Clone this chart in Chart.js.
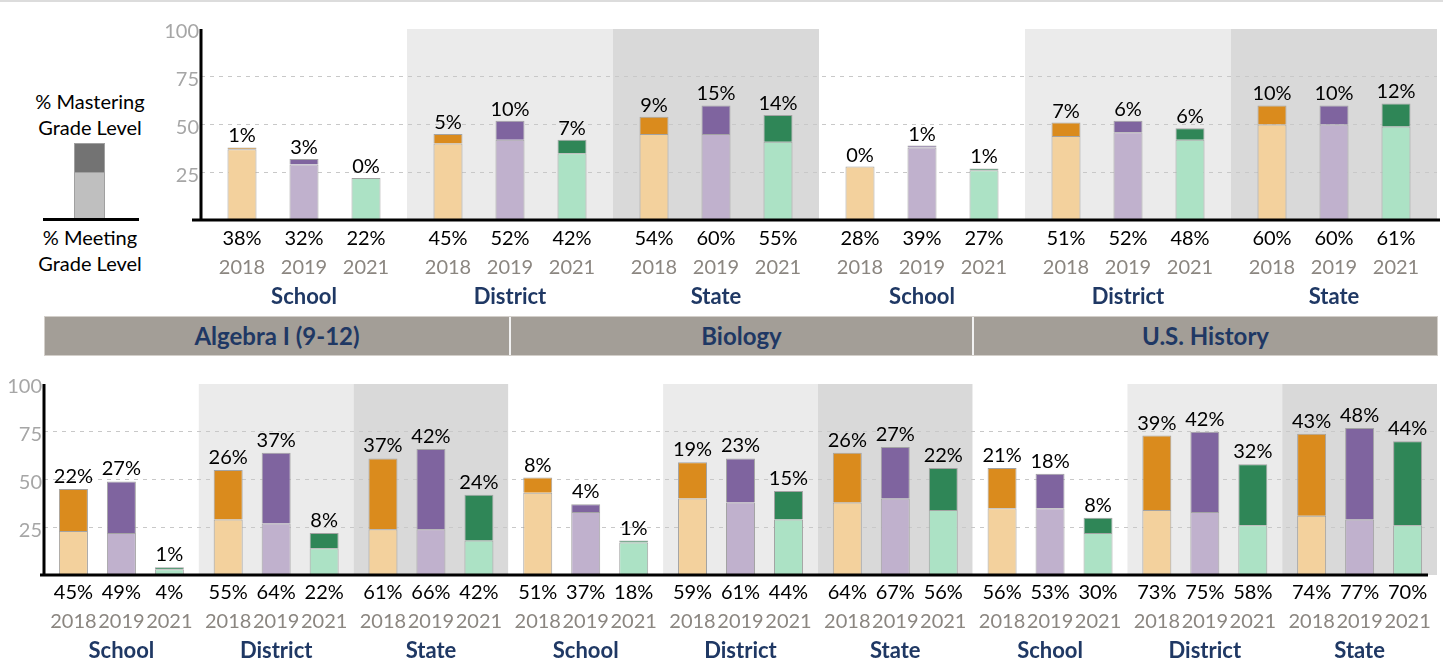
<!DOCTYPE html>
<html>
<head>
<meta charset="utf-8">
<script src="https://cdn.jsdelivr.net/npm/chart.js@4.4.1/dist/chart.umd.min.js"></script>
<style>
html,body{margin:0;padding:0;background:#fff;}
body{width:1443px;height:662px;position:relative;overflow:hidden;font-family:Lato,'Open Sans',sans-serif;}
#topline{position:absolute;left:0;top:0;width:1443px;height:2px;background:#dcdcdc;}
canvas{position:absolute;left:0;}
#c1{top:0;}
#c2{top:360px;}
.legtxt{position:absolute;left:0;width:180px;text-align:center;font-size:20px;line-height:26px;color:#000;}
#legMast{top:88px;}
#legMeet{top:224px;}
#legDark{position:absolute;left:74px;top:143px;width:29px;height:28px;background:#737373;border:1px solid #a0a0a0;border-bottom:none;}
#legLight{position:absolute;left:74px;top:172px;width:29px;height:47px;background:#bfbfbf;border:1px solid #a0a0a0;border-bottom:none;}
#legBase{position:absolute;left:43px;top:218px;width:96px;height:3px;background:#000;}
#header{position:absolute;left:45px;top:317px;width:1392px;height:38px;display:flex;background:#a39e97;box-shadow:0 0 0 1px #d3cfca;}
.hcell{text-align:center;font-weight:bold;font-size:24px;color:#1f3864;line-height:38px;box-sizing:border-box;}
.hcell+.hcell{border-left:2px solid #f2f2f2;}
</style>
</head>
<body>
<div id="topline"></div>
<div class="legtxt" id="legMast">% Mastering<br>Grade Level</div>
<div id="legDark"></div>
<div id="legLight"></div>
<div id="legBase"></div>
<div class="legtxt" id="legMeet">% Meeting<br>Grade Level</div>
<div id="header"></div>
<canvas id="c1" width="1443" height="310"></canvas>
<canvas id="c2" width="1443" height="302"></canvas>
<script>
// ---------- DATA ----------
const years = ['2018', '2019', '2021'];
const yTicks = [25, 50, 75, 100];
const subjects = ['Algebra I (9-12)', 'Biology', 'U.S. History'];

// top row (two panels: 6 groups)
const topGroups = ['School', 'District', 'State', 'School', 'District', 'State'];
const topMeet2018 = [38, 45, 54, 28, 51, 60];
const topMeet2019 = [32, 52, 60, 39, 52, 60];
const topMeet2021 = [22, 42, 55, 27, 48, 61];
const topMast2018 = [1, 5, 9, 0, 7, 10];
const topMast2019 = [3, 10, 15, 1, 6, 10];
const topMast2021 = [0, 7, 14, 1, 6, 12];

// bottom row (Algebra I, Biology, U.S. History: 9 groups)
const botGroups = ['School', 'District', 'State', 'School', 'District', 'State', 'School', 'District', 'State'];
const botMeet2018 = [45, 55, 61, 51, 59, 64, 56, 73, 74];
const botMeet2019 = [49, 64, 66, 37, 61, 67, 53, 75, 77];
const botMeet2021 = [4, 22, 42, 18, 44, 56, 30, 58, 70];
const botMast2018 = [22, 26, 37, 8, 19, 26, 21, 39, 43];
const botMast2019 = [27, 37, 42, 4, 23, 27, 18, 42, 48];
const botMast2021 = [1, 8, 24, 1, 15, 22, 8, 32, 44];

// ---------- STYLE ----------
const lightColors = ['#f3d19d', '#c0b1cd', '#ace2c5'];
const darkColors = ['#da8b1d', '#7f649f', '#2f8657'];
const bandColors = ['#ffffff', '#ebebeb', '#d9d9d9'];
const FONT = 'Lato, "Open Sans", sans-serif';

// header
const header = document.getElementById('header');
const hw = [464, 463, 465];
subjects.forEach((s, i) => {
  const d = document.createElement('div');
  d.className = 'hcell';
  d.style.width = hw[i] + 'px';
  d.textContent = s;
  header.appendChild(d);
});

function makePanelPlugin(groups, meet, mast, o) {
  return {
    id: 'panel',
    beforeDraw(chart) {
      const {ctx, chartArea: a, scales: {x}} = chart;
      const step = x.getPixelForValue(1) - x.getPixelForValue(0);
      ctx.save();
      for (let i = 0; i < groups.length; i++) {
        const cx = x.getPixelForValue(i);
        ctx.fillStyle = bandColors[i % 3];
        ctx.fillRect(cx - step / 2, a.top, step, a.bottom - a.top);
      }
      ctx.restore();
    },
    afterDatasetsDraw(chart) {
      const {ctx, chartArea: a, scales: {x}} = chart;
      ctx.save();
      ctx.fillStyle = '#000';
      ctx.fillRect(a.left + o.baseFrom, a.bottom - 1.5, (a.right + o.baseTo) - (a.left + o.baseFrom), 3);
      ctx.fillRect(a.left - 1.5, a.top, 3, a.bottom - a.top);
      ctx.textAlign = 'center';
      ctx.textBaseline = 'alphabetic';
      for (let c = 0; c < groups.length; c++) {
        for (let j = 0; j < years.length; j++) {
          const el = chart.getDatasetMeta(2 * j + 1).data[c];
          const xb = el.x;
          const topY = Math.min(el.y, el.base);
          ctx.font = '20px ' + FONT;
          ctx.fillStyle = '#000';
          ctx.fillText(mast[j][c] + '%', xb, topY - o.valGap);
          ctx.fillText(meet[j][c] + '%', xb, a.bottom + o.pctY);
          ctx.fillStyle = '#8b8680';
          ctx.fillText(years[j], xb, a.bottom + o.yearY);
        }
        ctx.font = 'bold 22px ' + FONT;
        ctx.fillStyle = '#1f3864';
        ctx.fillText(groups[c], x.getPixelForValue(c), a.bottom + o.groupY);
      }
      ctx.restore();
    }
  };
}

function makeChart(id, groups, meet, mast, o) {
  const datasets = [];
  years.forEach((yr, j) => {
    datasets.push({
      label: yr + ' meeting',
      data: meet[j].map((v, i) => v - mast[j][i]),
      backgroundColor: lightColors[j],
      borderColor: '#a3a3a3', borderWidth: 1, borderSkipped: 'start',
      stack: yr, categoryPercentage: o.catPct, barPercentage: o.barPct
    });
    datasets.push({
      label: yr + ' mastering',
      data: mast[j],
      backgroundColor: darkColors[j],
      borderColor: '#a3a3a3', borderWidth: 1, borderSkipped: 'start',
      stack: yr, categoryPercentage: o.catPct, barPercentage: o.barPct
    });
  });
  return new Chart(document.getElementById(id), {
    type: 'bar',
    data: {labels: groups, datasets},
    plugins: [makePanelPlugin(groups, meet, mast, o)],
    options: {
      responsive: false,
      animation: false,
      devicePixelRatio: 1,
      layout: {padding: o.padding},
      plugins: {legend: {display: false}, tooltip: {enabled: false}},
      scales: {
        x: {type: 'category', stacked: true, display: false, grid: {display: false}},
        y: {
          type: 'linear', stacked: true, min: 0, max: 100,
          afterFit(s) { s.width = o.yW; },
          ticks: {
            stepSize: 25,
            callback: (v) => yTicks.includes(v) ? String(v) : null,
            color: '#a6a6a6', font: {family: FONT, size: 20}, padding: 2, labelOffset: 3
          },
          grid: {
            drawTicks: false, lineWidth: 1,
            color: (ctx) => (ctx.tick && ctx.tick.value > 0 && ctx.tick.value < 100) ? '#c8c8c8' : 'rgba(0,0,0,0)'
          },
          border: {display: false, dash: [4, 5]}
        }
      }
    }
  });
}

const charts = [];
charts.push(makeChart('c1', topGroups,
  [topMeet2018, topMeet2019, topMeet2021],
  [topMast2018, topMast2019, topMast2021],
  {padding: {left: 153, right: 6, top: 29, bottom: 90}, yW: 48, catPct: 0.903, barPct: 0.468,
   baseFrom: -9, baseTo: 3, valGap: 5, pctY: 25, yearY: 54, groupY: 84}));
charts.push(makeChart('c2', botGroups,
  [botMeet2018, botMeet2019, botMeet2021],
  [botMast2018, botMast2019, botMast2021],
  {padding: {left: 2, right: 6, top: 24, bottom: 87}, yW: 42, catPct: 0.93, barPct: 0.604,
   baseFrom: -4, baseTo: -9, valGap: 6, pctY: 24, yearY: 53, groupY: 83}));

if (document.fonts && document.fonts.ready) {
  document.fonts.ready.then(() => charts.forEach(c => c.update()));
}
</script>
</body>
</html>
